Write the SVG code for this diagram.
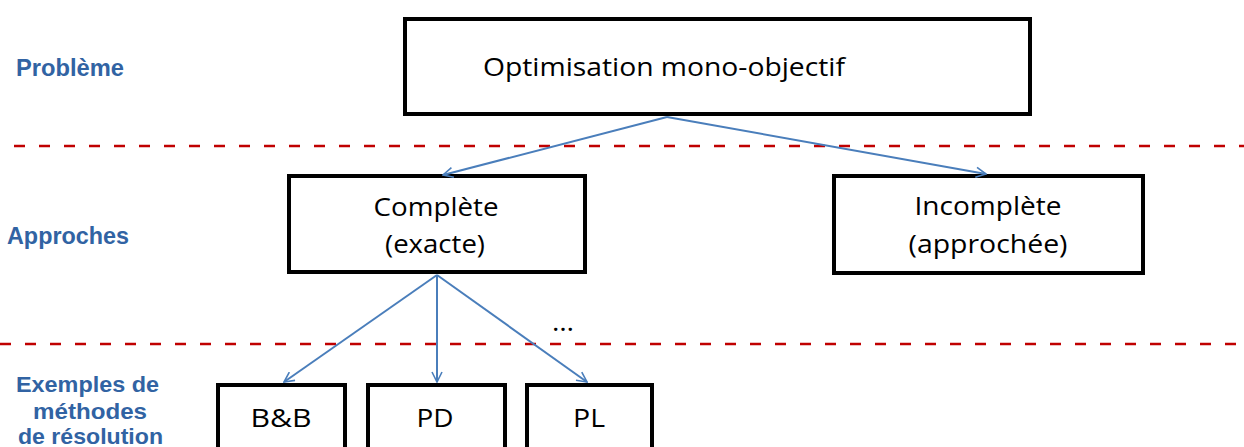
<svg xmlns="http://www.w3.org/2000/svg" width="1244" height="447" viewBox="0 0 1244 447">
  <style>
    .box { fill: #ffffff; stroke: #000000; stroke-width: 4; }
    .lbl { font-family: "Open Sans", "Liberation Sans", sans-serif; font-size: 25px; fill: #000000; text-anchor: middle; }
    .side { font-family: "Liberation Sans", Arial, sans-serif; font-weight: bold; font-size: 24px; fill: #3163A3; }
    .side.small { font-size: 22px; }
    .sep { stroke: #C00000; stroke-width: 2.5; stroke-dasharray: 11 14; fill: none; }
    .edge { stroke: #4A7EBB; stroke-width: 2; fill: none; marker-end: url(#arr); }
  </style>
  <defs>
    <marker id="arr" viewBox="0 0 12 12" refX="11" refY="6" markerWidth="12" markerHeight="12" markerUnits="userSpaceOnUse" orient="auto">
      <path d="M1,1 L11,6 L1,11" fill="none" stroke="#4A7EBB" stroke-width="1.6"/>
    </marker>
  </defs>

  <!-- row labels -->
  <g id="row-labels">
    <text class="side" x="16" y="76" textLength="108" lengthAdjust="spacingAndGlyphs">Problème</text>
    <text class="side" x="7" y="244" textLength="122" lengthAdjust="spacingAndGlyphs">Approches</text>
    <text class="side small" x="16" y="392" textLength="143" lengthAdjust="spacingAndGlyphs">Exemples de</text>
    <text class="side small" x="33" y="419" textLength="114" lengthAdjust="spacingAndGlyphs">méthodes</text>
    <text class="side small" x="18" y="444" textLength="145" lengthAdjust="spacingAndGlyphs">de résolution</text>
  </g>

  <!-- level separators -->
  <g id="separators">
    <line class="sep" x1="14" y1="146" x2="1244" y2="146"/>
    <line class="sep" x1="0" y1="344" x2="1244" y2="344"/>
  </g>

  <!-- nodes -->
  <g id="node-mono">
    <rect class="box" x="405" y="19" width="625" height="95"/>
    <text class="lbl" x="664" y="76" textLength="362" lengthAdjust="spacingAndGlyphs">Optimisation mono-objectif</text>
  </g>
  <g id="node-complete">
    <rect class="box" x="289" y="176" width="296" height="96"/>
    <text class="lbl" x="436" y="216" textLength="125" lengthAdjust="spacingAndGlyphs">Complète</text>
    <text class="lbl" x="435" y="253" textLength="100" lengthAdjust="spacingAndGlyphs">(exacte)</text>
  </g>
  <g id="node-incomplete">
    <rect class="box" x="834" y="176" width="309" height="97"/>
    <text class="lbl" x="988" y="215" textLength="147" lengthAdjust="spacingAndGlyphs">Incomplète</text>
    <text class="lbl" x="988" y="253" textLength="159" lengthAdjust="spacingAndGlyphs">(approchée)</text>
  </g>
  <g id="node-bb">
    <rect class="box" x="218" y="385" width="127" height="80"/>
    <text class="lbl" x="281" y="427" textLength="61" lengthAdjust="spacingAndGlyphs">B&amp;B</text>
  </g>
  <g id="node-pd">
    <rect class="box" x="368" y="385" width="137" height="80"/>
    <text class="lbl" x="435" y="427" textLength="37" lengthAdjust="spacingAndGlyphs">PD</text>
  </g>
  <g id="node-pl">
    <rect class="box" x="527" y="385" width="125" height="80"/>
    <text class="lbl" x="589" y="427" textLength="32" lengthAdjust="spacingAndGlyphs">PL</text>
  </g>

  <!-- more methods -->
  <g id="ellipsis">
    <text class="lbl" x="563" y="331" textLength="22" lengthAdjust="spacingAndGlyphs">…</text>
  </g>

  <!-- connectors -->
  <g id="connectors">
    <line class="edge" x1="667" y1="117" x2="443" y2="175"/>
    <line class="edge" x1="667" y1="117" x2="986" y2="174"/>
    <line class="edge" x1="437" y1="275" x2="284" y2="382"/>
    <line class="edge" x1="437" y1="275" x2="437" y2="382"/>
    <line class="edge" x1="437" y1="275" x2="587" y2="382"/>
  </g>
</svg>
